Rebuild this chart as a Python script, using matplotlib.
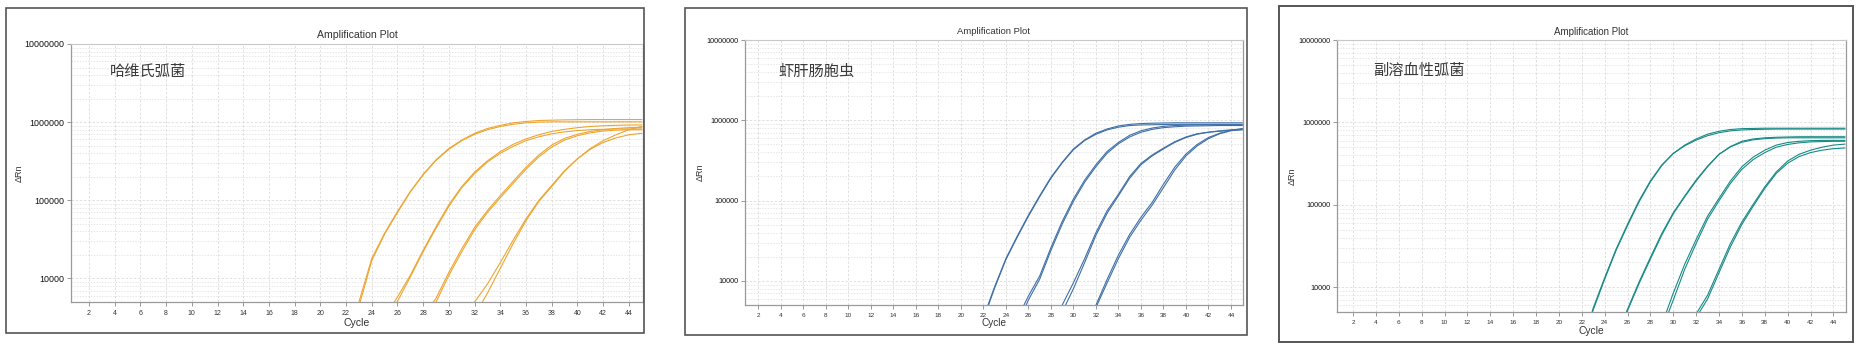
import matplotlib
matplotlib.use("Agg")
import matplotlib.pyplot as plt
from matplotlib.patches import Rectangle
from matplotlib.ticker import FixedLocator, FuncFormatter, LogLocator, NullFormatter

plt.rcParams['font.family'] = ['Liberation Sans', 'Noto Sans CJK SC', 'DejaVu Sans']

W, H = 1859, 347

# ---------------------------------------------------------------------------
# Data
# each curve: first value sits at its start cycle, the rest at whole cycles
# ---------------------------------------------------------------------------

TITLE = "Amplification Plot"
X_LABEL = "Cycle"
Y_LABEL = "ΔRn"
X_TICKS = list(range(2, 45, 2))
Y_TICKS = [1e4, 1e5, 1e6, 1e7]

VH_NAME = "哈维氏弧菌"
VH_START = [23.0, 23.1, 25.75, 25.95, 28.8, 29.0, 32.0, 32.6]
VH_DRN = [
    [5000, 18000, 38000, 72000, 130000, 215000, 330000, 460000, 590000, 720000, 830000, 910000,
     980000, 1020000, 1050000, 1060000, 1070000, 1075000, 1080000, 1080000, 1080000, 1080000, 1080000],
    [5000, 17000, 37000, 70000, 128000, 212000, 325000, 450000, 580000, 700000, 800000, 880000,
     940000, 980000, 1000000, 1010000, 1010000, 1010000, 1010000, 1010000, 1010000, 1010000, 1010000],
    [5000, 5800, 11000, 23000, 46000, 88000, 150000, 230000, 320000, 420000, 520000, 610000,
     690000, 760000, 810000, 850000, 880000, 900000, 910000, 920000, 920000],
    [5000, 5100, 10500, 22000, 44000, 84000, 145000, 220000, 310000, 400000, 490000, 580000,
     650000, 710000, 750000, 780000, 800000, 810000, 820000, 820000, 820000],
    [5000, 5600, 12000, 24000, 45000, 74000, 115000, 175000, 265000, 380000, 510000, 620000,
     700000, 760000, 800000, 830000, 850000, 860000],
    [5000, 11000, 22000, 42000, 70000, 108000, 165000, 250000, 360000, 480000, 590000, 670000,
     730000, 770000, 790000, 800000, 800000],
    [5000, 8500, 16000, 31000, 58000, 100000, 155000, 240000, 340000, 450000, 550000, 630000,
     690000, 720000],
    [5000, 6500, 13500, 28000, 55000, 97000, 150000, 235000, 340000, 460000, 580000, 690000,
     800000, 880000],
]

EH_NAME = "虾肝肠胞虫"
EH_START = [22.4, 22.45, 25.6, 25.8, 29.0, 29.3, 32.0, 32.1]
EH_DRN = [
    [5000, 8500, 19000, 36000, 66000, 115000, 195000, 300000, 440000, 570000, 690000, 780000,
     850000, 890000, 910000, 920000, 925000, 930000, 930000, 930000, 930000, 930000, 930000, 930000],
    [5000, 8200, 18500, 35000, 64000, 112000, 190000, 295000, 430000, 560000, 670000, 760000,
     820000, 860000, 875000, 880000, 885000, 890000, 890000, 890000, 890000, 890000, 890000, 890000],
    [5000, 6500, 11500, 26000, 55000, 105000, 180000, 280000, 410000, 530000, 650000, 740000,
     800000, 840000, 860000, 870000, 875000, 880000, 880000, 880000, 880000],
    [5000, 5800, 10500, 24000, 51000, 98000, 170000, 265000, 390000, 510000, 620000, 710000,
     770000, 810000, 830000, 845000, 850000, 855000, 860000, 860000, 860000],
    [5000, 9500, 19000, 40000, 75000, 120000, 200000, 290000, 370000, 450000, 540000, 620000,
     680000, 710000, 730000, 750000, 760000],
    [5000, 8000, 17000, 37000, 70000, 115000, 190000, 280000, 360000, 440000, 530000, 610000,
     670000, 710000, 740000, 760000, 770000],
    [5000, 10500, 21000, 38000, 62000, 95000, 160000, 260000, 380000, 500000, 610000, 690000,
     750000, 790000],
    [5000, 9500, 19000, 35000, 57000, 88000, 145000, 240000, 360000, 480000, 590000, 680000,
     740000, 770000],
]

VP_NAME = "副溶血性弧菌"
VP_START = [22.94, 22.9, 25.96, 25.9, 29.4, 29.6, 32.1, 32.3]
VP_DRN = [
    [5000, 5300, 12500, 28000, 56000, 108000, 190000, 300000, 420000, 530000, 630000, 720000,
     780000, 820000, 840000, 845000, 850000, 850000, 850000, 850000, 850000, 850000, 850000, 850000],
    [5000, 5600, 13000, 29000, 58000, 112000, 195000, 305000, 420000, 520000, 610000, 690000,
     750000, 790000, 810000, 820000, 825000, 830000, 830000, 830000, 830000, 830000, 830000, 830000],
    [5000, 5200, 11000, 22000, 43000, 78000, 125000, 195000, 290000, 410000, 510000, 590000,
     630000, 650000, 660000, 665000, 670000, 670000, 670000, 670000, 670000],
    [5000, 5400, 11500, 23000, 45000, 80000, 128000, 200000, 295000, 410000, 505000, 575000,
     615000, 635000, 645000, 650000, 650000, 650000, 650000, 650000, 650000],
    [5000, 8500, 19000, 38000, 73000, 120000, 195000, 290000, 380000, 460000, 530000, 570000,
     590000, 600000, 605000, 605000, 605000],
    [5000, 7000, 16500, 34000, 67000, 112000, 182000, 270000, 355000, 430000, 500000, 540000,
     565000, 580000, 585000, 590000, 590000],
    [5000, 8000, 16500, 34000, 62000, 102000, 165000, 250000, 340000, 410000, 460000, 500000,
     530000, 545000],
    [5000, 7200, 15000, 31000, 58000, 97000, 158000, 240000, 320000, 385000, 430000, 460000,
     480000, 490000],
]

# ---------------------------------------------------------------------------
# Layout (pixels, y measured from the top)
# ---------------------------------------------------------------------------

PANELS = [
    dict(name=VH_NAME, start=VH_START, drn=VH_DRN, color="#EEA530",
         frame=(6, 8, 644, 333), axes=(71, 44, 643, 302), xlim=(0.6, 45.1),
         title_y=35, title_fs=7.6, label_xy=(110, 72), label_fs=11,
         cycle_y=323, cycle_fs=7.6, yl_x=19, tick_fs=6.4, xtick_fs=5.0, frame_lw=1.2),
    dict(name=EH_NAME, start=EH_START, drn=EH_DRN, color="#3F6FA6",
         frame=(685, 8, 1247, 335), axes=(745, 40, 1243, 305), xlim=(0.8, 45.07),
         title_y=31, title_fs=6.8, label_xy=(778, 72), label_fs=11,
         cycle_y=323, cycle_fs=7.2, yl_x=700, tick_fs=5.2, xtick_fs=4.6, frame_lw=1.2),
    dict(name=VP_NAME, start=VP_START, drn=VP_DRN, color="#178A85",
         frame=(1279, 6, 1853, 342), axes=(1337, 40, 1846, 312), xlim=(0.6, 45.1),
         title_y=32, title_fs=7.0, label_xy=(1373, 71), label_fs=11,
         cycle_y=331, cycle_fs=7.4, yl_x=1292, tick_fs=5.2, xtick_fs=4.6, frame_lw=1.4),
]

GRID_COLOR = "#DCDCDC"
TEXT_COLOR = "#333333"

fig = plt.figure(figsize=(W / 100, H / 100), dpi=100)


def fx(x):
    return x / W


def fy(y):
    return 1 - y / H


for p in PANELS:
    x0, y0, x1, y1 = p["frame"]
    fig.patches.append(Rectangle((fx(x0), fy(y1)), fx(x1 - x0), (y1 - y0) / H,
                                 transform=fig.transFigure, fill=False,
                                 edgecolor="#555555", linewidth=p["frame_lw"]))

    l, t, r, b = p["axes"]
    ax = fig.add_axes([fx(l), fy(b), fx(r - l), (b - t) / H])

    for s, vals in zip(p["start"], p["drn"]):
        cycles = [s] + list(range(int(s) + 1, int(s) + len(vals)))
        ax.plot(cycles, vals, color=p["color"], linewidth=0.8, solid_joinstyle="round")

    ax.set_yscale("log")
    ax.set_ylim(5000, 1e7)
    ax.set_xlim(*p["xlim"])
    ax.set_xticks(X_TICKS)
    ax.yaxis.set_major_locator(FixedLocator(Y_TICKS))
    ax.yaxis.set_major_formatter(FuncFormatter(lambda v, pos: f"{int(round(v))}"))
    ax.yaxis.set_minor_locator(LogLocator(base=10, subs=range(2, 10)))
    ax.yaxis.set_minor_formatter(NullFormatter())

    ax.tick_params(axis="x", length=3, width=0.6, color="#888888", pad=3,
                   labelsize=p["xtick_fs"], labelcolor=TEXT_COLOR)
    ax.tick_params(axis="y", which="major", length=3, width=0.6, color="#888888", pad=2,
                   labelsize=p["tick_fs"], labelcolor="#111111")
    ax.tick_params(axis="y", which="minor", length=0)

    ax.grid(True, which="major", color=GRID_COLOR, linestyle=(0, (3, 2)), linewidth=0.6)
    ax.grid(True, which="minor", axis="y", color=GRID_COLOR, linestyle=(0, (2, 2)), linewidth=0.5)
    ax.set_axisbelow(True)

    for side in ["left", "bottom", "right"]:
        ax.spines[side].set_color("#9A9A9A")
        ax.spines[side].set_linewidth(0.9)
    ax.spines["top"].set_color("#C8C8C8")
    ax.spines["top"].set_linewidth(0.8)

    cx = (l + r) / 2
    fig.text(fx(cx), fy(p["title_y"]), TITLE, ha="center", va="center",
             fontsize=p["title_fs"], color=TEXT_COLOR)
    fig.text(fx(p["label_xy"][0]), fy(p["label_xy"][1]), p["name"], ha="left", va="center",
             fontsize=p["label_fs"], color="#3A3A3A")
    fig.text(fx(cx), fy(p["cycle_y"]), X_LABEL, ha="center", va="center",
             fontsize=p["cycle_fs"], color=TEXT_COLOR)
    fig.text(fx(p["yl_x"]), fy((t + b) / 2), Y_LABEL, ha="center", va="center",
             rotation=90, fontsize=6.5, color=TEXT_COLOR)

fig.savefig("out.png", dpi=100)
